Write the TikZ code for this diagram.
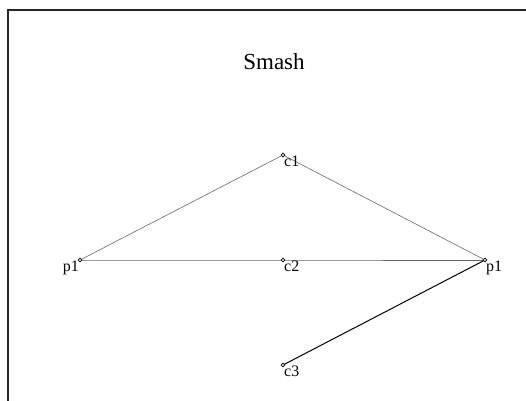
\documentclass[tikz,border=0pt]{standalone}
\usepackage{fontspec}
\setmainfont{Liberation Serif}
\usetikzlibrary{positioning}

\begin{document}
\begin{tikzpicture}[
  x=1pt, y=1pt,
  pt/.style={circle, draw, fill=white, inner sep=0pt, minimum size=3.6pt, line width=0.7pt},
  lbl/.style={font=\fontsize{16}{18}\selectfont, inner sep=1pt},
  edge/.style={draw=gray!80!black, line width=0.6pt}
]
  \useasboundingbox (0,0) rectangle (526,400);
  \clip (0,0) rectangle (526,400);
  % frame
  \draw[line width=1.4pt, black!85] (8,-10) -- (8,390) -- (540,390);

  \node (title) at (274,338) {\fontsize{23}{26}\selectfont Smash};

  \coordinate (pa) at (80,140);
  \coordinate (c1) at (283,245);
  \coordinate (c2) at (283,140);
  \coordinate (pb) at (485,140);
  \coordinate (c3) at (283,35);

  \draw[edge] (pa) -- (c1) -- (pb);
  \draw[edge] (pa) -- (c2) -- (pb);
  \draw[line width=1pt] (c3) -- (pb);

  \node[pt] at (pa) {};
  \node[pt] at (c1) {};
  \node[pt] at (c2) {};
  \node[pt] at (pb) {};
  \node[pt] at (c3) {};

  \node[lbl, anchor=north east] (pa-l) at (pa) {p1};
  \node[lbl, anchor=north west] (c1-l) at (c1) {c1};
  \node[lbl, anchor=north west] (c2-l) at (c2) {c2};
  \node[lbl, anchor=north west] (pb-l) at (pb) {p1};
  \node[lbl, anchor=north west] (c3-l) at (c3) {c3};
\end{tikzpicture}
\end{document}
